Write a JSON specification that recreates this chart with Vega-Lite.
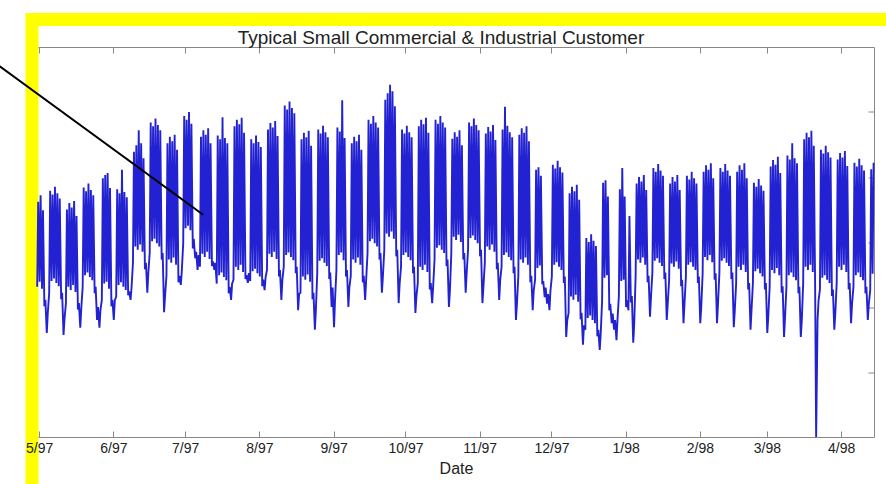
{
"$schema": "https://vega.github.io/schema/vega-lite/v6.json",
"width": 854,
"height": 464.5,
"autosize": {"type": "none"},
"padding": {"left": 32, "top": 19.5, "right": 0, "bottom": 0},
"background": "#ffffff",
"config": {
  "font": "Liberation Sans",
  "view": {"stroke": "#ffff00", "strokeWidth": 13, "strokeDash": [854, 1318.5, 464.5, 10]}
},
"title": {"text": "Typical Small Commercial & Industrial Customer", "fontSize": 19, "fontWeight": "normal", "color": "#222222", "offset": -28, "dx": -18},
"resolve": {"axis": {"x": "independent", "y": "independent"}},
"layer": [
{
"data": {"format": {"parse": {"t": "date:'%Y-%m-%dT%H'"}}, "values": [
{"t":"1997-04-30T04","v":23.1},{"t":"1997-04-30T14","v":36.2},
{"t":"1997-05-01T04","v":23.9},{"t":"1997-05-01T14","v":37.2},
{"t":"1997-05-02T04","v":22.8},{"t":"1997-05-02T14","v":34.9},
{"t":"1997-05-03T04","v":20.1},{"t":"1997-05-03T14","v":21.1},
{"t":"1997-05-04T04","v":16.0},{"t":"1997-05-04T14","v":19.0},
{"t":"1997-05-05T04","v":22.2},{"t":"1997-05-05T14","v":37.9},
{"t":"1997-05-06T04","v":24.0},{"t":"1997-05-06T14","v":37.3},
{"t":"1997-05-07T04","v":24.4},{"t":"1997-05-07T14","v":38.5},
{"t":"1997-05-08T04","v":23.7},{"t":"1997-05-08T14","v":37.5},
{"t":"1997-05-09T04","v":23.2},{"t":"1997-05-09T14","v":36.7},
{"t":"1997-05-10T04","v":21.2},{"t":"1997-05-10T14","v":22.2},
{"t":"1997-05-11T04","v":15.7},{"t":"1997-05-11T14","v":18.2},
{"t":"1997-05-12T04","v":20.6},{"t":"1997-05-12T14","v":35.0},
{"t":"1997-05-13T04","v":23.1},{"t":"1997-05-13T14","v":36.0},
{"t":"1997-05-14T04","v":22.6},{"t":"1997-05-14T14","v":35.3},
{"t":"1997-05-15T04","v":23.4},{"t":"1997-05-15T14","v":36.3},
{"t":"1997-05-16T04","v":22.3},{"t":"1997-05-16T14","v":34.0},
{"t":"1997-05-17T04","v":19.6},{"t":"1997-05-17T14","v":20.6},
{"t":"1997-05-18T04","v":16.8},{"t":"1997-05-18T14","v":19.8},
{"t":"1997-05-19T04","v":23.1},{"t":"1997-05-19T14","v":38.4},
{"t":"1997-05-20T04","v":24.9},{"t":"1997-05-20T14","v":37.8},
{"t":"1997-05-21T04","v":25.3},{"t":"1997-05-21T14","v":39.0},
{"t":"1997-05-22T04","v":24.6},{"t":"1997-05-22T14","v":38.0},
{"t":"1997-05-23T04","v":24.1},{"t":"1997-05-23T14","v":37.2},
{"t":"1997-05-24T04","v":22.1},{"t":"1997-05-24T14","v":23.1},
{"t":"1997-05-25T04","v":18.0},{"t":"1997-05-25T14","v":20.0},
{"t":"1997-05-26T04","v":16.8},{"t":"1997-05-26T14","v":19.5},
{"t":"1997-05-27T04","v":21.1},{"t":"1997-05-27T14","v":39.8},
{"t":"1997-05-28T04","v":23.6},{"t":"1997-05-28T14","v":40.3},
{"t":"1997-05-29T04","v":23.9},{"t":"1997-05-29T14","v":40.6},
{"t":"1997-05-30T04","v":22.8},{"t":"1997-05-30T14","v":38.3},
{"t":"1997-05-31T04","v":20.1},{"t":"1997-05-31T14","v":21.1},
{"t":"1997-06-01T04","v":18.0},{"t":"1997-06-01T14","v":21.0},
{"t":"1997-06-02T04","v":21.6},{"t":"1997-06-02T14","v":38.1},
{"t":"1997-06-03T04","v":23.4},{"t":"1997-06-03T14","v":37.5},
{"t":"1997-06-04T04","v":23.8},{"t":"1997-06-04T14","v":41.1},
{"t":"1997-06-05T04","v":23.1},{"t":"1997-06-05T14","v":37.7},
{"t":"1997-06-06T04","v":22.6},{"t":"1997-06-06T14","v":36.9},
{"t":"1997-06-07T04","v":21.8},{"t":"1997-06-07T14","v":22.4},
{"t":"1997-06-08T04","v":21.1},{"t":"1997-06-08T14","v":23.0},
{"t":"1997-06-09T04","v":26.8},{"t":"1997-06-09T14","v":43.9},
{"t":"1997-06-10T04","v":29.3},{"t":"1997-06-10T14","v":44.9},
{"t":"1997-06-11T04","v":28.8},{"t":"1997-06-11T14","v":47.2},
{"t":"1997-06-12T04","v":29.6},{"t":"1997-06-12T14","v":45.2},
{"t":"1997-06-13T04","v":28.5},{"t":"1997-06-13T14","v":42.9},
{"t":"1997-06-14T04","v":25.8},{"t":"1997-06-14T14","v":26.8},
{"t":"1997-06-15T04","v":22.2},{"t":"1997-06-15T14","v":25.2},
{"t":"1997-06-16T04","v":28.3},{"t":"1997-06-16T14","v":48.4},
{"t":"1997-06-17T04","v":30.1},{"t":"1997-06-17T14","v":47.8},
{"t":"1997-06-18T04","v":30.5},{"t":"1997-06-18T14","v":49.0},
{"t":"1997-06-19T04","v":29.8},{"t":"1997-06-19T14","v":48.0},
{"t":"1997-06-20T04","v":29.3},{"t":"1997-06-20T14","v":47.2},
{"t":"1997-06-21T04","v":27.3},{"t":"1997-06-21T14","v":28.3},
{"t":"1997-06-22T04","v":19.2},{"t":"1997-06-22T14","v":21.7},
{"t":"1997-06-23T04","v":24.8},{"t":"1997-06-23T14","v":45.2},
{"t":"1997-06-24T04","v":27.3},{"t":"1997-06-24T14","v":46.2},
{"t":"1997-06-25T04","v":26.8},{"t":"1997-06-25T14","v":45.5},
{"t":"1997-06-26T04","v":27.6},{"t":"1997-06-26T14","v":46.5},
{"t":"1997-06-27T04","v":26.5},{"t":"1997-06-27T14","v":44.2},
{"t":"1997-06-28T04","v":23.8},{"t":"1997-06-28T14","v":24.8},
{"t":"1997-06-29T04","v":23.4},{"t":"1997-06-29T14","v":25.6},
{"t":"1997-06-30T04","v":29.8},{"t":"1997-06-30T14","v":49.4},
{"t":"1997-07-01T04","v":32.1},{"t":"1997-07-01T14","v":48.8},
{"t":"1997-07-02T04","v":32.5},{"t":"1997-07-02T14","v":50.0},
{"t":"1997-07-03T04","v":31.8},{"t":"1997-07-03T14","v":48.2},
{"t":"1997-07-04T04","v":29.0},{"t":"1997-07-04T14","v":30.5},
{"t":"1997-07-05T04","v":27.5},{"t":"1997-07-05T14","v":28.5},
{"t":"1997-07-06T04","v":25.7},{"t":"1997-07-06T14","v":28.0},
{"t":"1997-07-07T04","v":26.2},{"t":"1997-07-07T14","v":46.2},
{"t":"1997-07-08T04","v":28.2},{"t":"1997-07-08T14","v":47.2},
{"t":"1997-07-09T04","v":27.7},{"t":"1997-07-09T14","v":46.5},
{"t":"1997-07-10T04","v":28.5},{"t":"1997-07-10T14","v":47.5},
{"t":"1997-07-11T04","v":27.4},{"t":"1997-07-11T14","v":45.2},
{"t":"1997-07-12T04","v":26.3},{"t":"1997-07-12T14","v":27.0},
{"t":"1997-07-13T04","v":25.7},{"t":"1997-07-13T14","v":26.8},
{"t":"1997-07-14T04","v":23.6},{"t":"1997-07-14T14","v":46.4},
{"t":"1997-07-15T04","v":24.9},{"t":"1997-07-15T14","v":45.8},
{"t":"1997-07-16T04","v":25.3},{"t":"1997-07-16T14","v":49.2},
{"t":"1997-07-17T04","v":24.6},{"t":"1997-07-17T14","v":46.0},
{"t":"1997-07-18T04","v":24.1},{"t":"1997-07-18T14","v":45.2},
{"t":"1997-07-19T04","v":22.1},{"t":"1997-07-19T14","v":23.1},
{"t":"1997-07-20T04","v":21.1},{"t":"1997-07-20T14","v":23.6},
{"t":"1997-07-21T04","v":24.2},{"t":"1997-07-21T14","v":47.8},
{"t":"1997-07-22T04","v":26.2},{"t":"1997-07-22T14","v":48.8},
{"t":"1997-07-23T04","v":25.7},{"t":"1997-07-23T14","v":48.1},
{"t":"1997-07-24T04","v":26.5},{"t":"1997-07-24T14","v":49.1},
{"t":"1997-07-25T04","v":25.4},{"t":"1997-07-25T14","v":46.8},
{"t":"1997-07-26T04","v":24.3},{"t":"1997-07-26T14","v":24.9},
{"t":"1997-07-27T04","v":23.7},{"t":"1997-07-27T14","v":25.2},
{"t":"1997-07-28T04","v":24.0},{"t":"1997-07-28T14","v":45.8},
{"t":"1997-07-29T04","v":25.5},{"t":"1997-07-29T14","v":45.2},
{"t":"1997-07-30T04","v":25.9},{"t":"1997-07-30T14","v":46.4},
{"t":"1997-07-31T04","v":25.2},{"t":"1997-07-31T14","v":45.4},
{"t":"1997-08-01T04","v":24.7},{"t":"1997-08-01T14","v":44.6},
{"t":"1997-08-02T04","v":23.2},{"t":"1997-08-02T14","v":24.2},
{"t":"1997-08-03T04","v":22.6},{"t":"1997-08-03T14","v":24.6},
{"t":"1997-08-04T04","v":25.7},{"t":"1997-08-04T14","v":47.3},
{"t":"1997-08-05T04","v":28.2},{"t":"1997-08-05T14","v":48.3},
{"t":"1997-08-06T04","v":27.7},{"t":"1997-08-06T14","v":47.6},
{"t":"1997-08-07T04","v":28.5},{"t":"1997-08-07T14","v":48.6},
{"t":"1997-08-08T04","v":27.4},{"t":"1997-08-08T14","v":46.3},
{"t":"1997-08-09T04","v":24.7},{"t":"1997-08-09T14","v":25.7},
{"t":"1997-08-10T04","v":21.1},{"t":"1997-08-10T14","v":24.1},
{"t":"1997-08-11T04","v":26.2},{"t":"1997-08-11T14","v":51.0},
{"t":"1997-08-12T04","v":28.0},{"t":"1997-08-12T14","v":50.4},
{"t":"1997-08-13T04","v":28.4},{"t":"1997-08-13T14","v":51.6},
{"t":"1997-08-14T04","v":27.7},{"t":"1997-08-14T14","v":50.6},
{"t":"1997-08-15T04","v":27.2},{"t":"1997-08-15T14","v":49.8},
{"t":"1997-08-16T04","v":25.2},{"t":"1997-08-16T14","v":26.2},
{"t":"1997-08-17T04","v":19.5},{"t":"1997-08-17T14","v":22.0},
{"t":"1997-08-18T04","v":22.2},{"t":"1997-08-18T14","v":45.8},
{"t":"1997-08-19T04","v":24.7},{"t":"1997-08-19T14","v":46.8},
{"t":"1997-08-20T04","v":24.2},{"t":"1997-08-20T14","v":46.1},
{"t":"1997-08-21T04","v":25.0},{"t":"1997-08-21T14","v":47.1},
{"t":"1997-08-22T04","v":23.9},{"t":"1997-08-22T14","v":44.8},
{"t":"1997-08-23T04","v":21.2},{"t":"1997-08-23T14","v":22.2},
{"t":"1997-08-24T04","v":16.5},{"t":"1997-08-24T14","v":19.5},
{"t":"1997-08-25T04","v":25.3},{"t":"1997-08-25T14","v":47.3},
{"t":"1997-08-26T04","v":27.1},{"t":"1997-08-26T14","v":46.7},
{"t":"1997-08-27T04","v":27.5},{"t":"1997-08-27T14","v":47.9},
{"t":"1997-08-28T04","v":26.8},{"t":"1997-08-28T14","v":46.9},
{"t":"1997-08-29T04","v":26.3},{"t":"1997-08-29T14","v":46.1},
{"t":"1997-08-30T04","v":24.3},{"t":"1997-08-30T14","v":25.3},
{"t":"1997-08-31T04","v":20.0},{"t":"1997-08-31T14","v":23.0},
{"t":"1997-09-01T04","v":16.9},{"t":"1997-09-01T14","v":21.0},
{"t":"1997-09-02T04","v":25.7},{"t":"1997-09-02T14","v":47.6},
{"t":"1997-09-03T04","v":28.0},{"t":"1997-09-03T14","v":47.0},
{"t":"1997-09-04T04","v":28.4},{"t":"1997-09-04T14","v":51.8},
{"t":"1997-09-05T04","v":27.2},{"t":"1997-09-05T14","v":46.0},
{"t":"1997-09-06T04","v":24.7},{"t":"1997-09-06T14","v":25.7},
{"t":"1997-09-07T04","v":20.0},{"t":"1997-09-07T14","v":23.0},
{"t":"1997-09-08T04","v":24.8},{"t":"1997-09-08T14","v":45.2},
{"t":"1997-09-09T04","v":27.3},{"t":"1997-09-09T14","v":46.2},
{"t":"1997-09-10T04","v":26.8},{"t":"1997-09-10T14","v":45.5},
{"t":"1997-09-11T04","v":27.6},{"t":"1997-09-11T14","v":46.5},
{"t":"1997-09-12T04","v":26.5},{"t":"1997-09-12T14","v":44.2},
{"t":"1997-09-13T04","v":23.8},{"t":"1997-09-13T14","v":24.8},
{"t":"1997-09-14T04","v":21.1},{"t":"1997-09-14T14","v":24.1},
{"t":"1997-09-15T04","v":28.3},{"t":"1997-09-15T14","v":48.8},
{"t":"1997-09-16T04","v":30.1},{"t":"1997-09-16T14","v":48.2},
{"t":"1997-09-17T04","v":30.5},{"t":"1997-09-17T14","v":49.4},
{"t":"1997-09-18T04","v":29.8},{"t":"1997-09-18T14","v":48.4},
{"t":"1997-09-19T04","v":29.3},{"t":"1997-09-19T14","v":47.6},
{"t":"1997-09-20T04","v":27.3},{"t":"1997-09-20T14","v":28.3},
{"t":"1997-09-21T04","v":22.2},{"t":"1997-09-21T14","v":24.7},
{"t":"1997-09-22T04","v":28.8},{"t":"1997-09-22T14","v":51.9},
{"t":"1997-09-23T04","v":31.3},{"t":"1997-09-23T14","v":52.9},
{"t":"1997-09-24T04","v":30.8},{"t":"1997-09-24T14","v":54.2},
{"t":"1997-09-25T04","v":31.6},{"t":"1997-09-25T14","v":53.2},
{"t":"1997-09-26T04","v":30.5},{"t":"1997-09-26T14","v":50.9},
{"t":"1997-09-27T04","v":27.8},{"t":"1997-09-27T14","v":28.8},
{"t":"1997-09-28T04","v":20.6},{"t":"1997-09-28T14","v":23.6},
{"t":"1997-09-29T04","v":26.2},{"t":"1997-09-29T14","v":47.3},
{"t":"1997-09-30T04","v":28.0},{"t":"1997-09-30T14","v":46.7},
{"t":"1997-10-01T04","v":28.4},{"t":"1997-10-01T14","v":47.9},
{"t":"1997-10-02T04","v":27.7},{"t":"1997-10-02T14","v":46.9},
{"t":"1997-10-03T04","v":27.2},{"t":"1997-10-03T14","v":46.1},
{"t":"1997-10-04T04","v":25.2},{"t":"1997-10-04T14","v":26.2},
{"t":"1997-10-05T04","v":19.1},{"t":"1997-10-05T14","v":21.6},
{"t":"1997-10-06T04","v":23.7},{"t":"1997-10-06T14","v":47.8},
{"t":"1997-10-07T04","v":26.2},{"t":"1997-10-07T14","v":48.8},
{"t":"1997-10-08T04","v":25.7},{"t":"1997-10-08T14","v":48.1},
{"t":"1997-10-09T04","v":26.5},{"t":"1997-10-09T14","v":49.1},
{"t":"1997-10-10T04","v":25.4},{"t":"1997-10-10T14","v":46.8},
{"t":"1997-10-11T04","v":22.7},{"t":"1997-10-11T14","v":23.7},
{"t":"1997-10-12T04","v":20.6},{"t":"1997-10-12T14","v":23.2},
{"t":"1997-10-13T04","v":27.3},{"t":"1997-10-13T14","v":48.8},
{"t":"1997-10-14T04","v":29.1},{"t":"1997-10-14T14","v":48.2},
{"t":"1997-10-15T04","v":29.5},{"t":"1997-10-15T14","v":49.4},
{"t":"1997-10-16T04","v":28.8},{"t":"1997-10-16T14","v":48.4},
{"t":"1997-10-17T04","v":28.3},{"t":"1997-10-17T14","v":47.6},
{"t":"1997-10-18T04","v":26.3},{"t":"1997-10-18T14","v":27.3},
{"t":"1997-10-19T04","v":20.0},{"t":"1997-10-19T14","v":22.5},
{"t":"1997-10-20T04","v":28.3},{"t":"1997-10-20T14","v":45.9},
{"t":"1997-10-21T04","v":30.8},{"t":"1997-10-21T14","v":46.9},
{"t":"1997-10-22T04","v":30.3},{"t":"1997-10-22T14","v":46.2},
{"t":"1997-10-23T04","v":31.1},{"t":"1997-10-23T14","v":47.2},
{"t":"1997-10-24T04","v":30.0},{"t":"1997-10-24T14","v":44.9},
{"t":"1997-10-25T04","v":27.3},{"t":"1997-10-25T14","v":28.3},
{"t":"1997-10-26T04","v":22.2},{"t":"1997-10-26T14","v":25.2},
{"t":"1997-10-27T04","v":28.8},{"t":"1997-10-27T14","v":48.4},
{"t":"1997-10-28T04","v":30.6},{"t":"1997-10-28T14","v":47.8},
{"t":"1997-10-29T04","v":31.0},{"t":"1997-10-29T14","v":49.0},
{"t":"1997-10-30T04","v":30.3},{"t":"1997-10-30T14","v":48.0},
{"t":"1997-10-31T04","v":29.8},{"t":"1997-10-31T14","v":47.2},
{"t":"1997-11-01T04","v":27.8},{"t":"1997-11-01T14","v":28.8},
{"t":"1997-11-02T04","v":20.6},{"t":"1997-11-02T14","v":23.1},
{"t":"1997-11-03T04","v":26.8},{"t":"1997-11-03T14","v":46.7},
{"t":"1997-11-04T04","v":29.3},{"t":"1997-11-04T14","v":47.7},
{"t":"1997-11-05T04","v":28.8},{"t":"1997-11-05T14","v":47.0},
{"t":"1997-11-06T04","v":29.6},{"t":"1997-11-06T14","v":48.0},
{"t":"1997-11-07T04","v":28.5},{"t":"1997-11-07T14","v":45.7},
{"t":"1997-11-08T04","v":25.8},{"t":"1997-11-08T14","v":26.8},
{"t":"1997-11-09T04","v":21.1},{"t":"1997-11-09T14","v":24.1},
{"t":"1997-11-10T04","v":26.2},{"t":"1997-11-10T14","v":47.3},
{"t":"1997-11-11T04","v":28.0},{"t":"1997-11-11T14","v":50.8},
{"t":"1997-11-12T04","v":28.4},{"t":"1997-11-12T14","v":47.9},
{"t":"1997-11-13T04","v":27.7},{"t":"1997-11-13T14","v":46.9},
{"t":"1997-11-14T04","v":27.2},{"t":"1997-11-14T14","v":46.1},
{"t":"1997-11-15T04","v":25.2},{"t":"1997-11-15T14","v":26.2},
{"t":"1997-11-16T04","v":18.0},{"t":"1997-11-16T14","v":20.5},
{"t":"1997-11-17T04","v":24.8},{"t":"1997-11-17T14","v":46.5},
{"t":"1997-11-18T04","v":27.3},{"t":"1997-11-18T14","v":47.5},
{"t":"1997-11-19T04","v":26.8},{"t":"1997-11-19T14","v":46.8},
{"t":"1997-11-20T04","v":27.6},{"t":"1997-11-20T14","v":47.8},
{"t":"1997-11-21T04","v":26.5},{"t":"1997-11-21T14","v":45.5},
{"t":"1997-11-22T04","v":23.8},{"t":"1997-11-22T14","v":24.8},
{"t":"1997-11-23T04","v":19.5},{"t":"1997-11-23T14","v":22.5},
{"t":"1997-11-24T04","v":24.2},{"t":"1997-11-24T14","v":41.1},
{"t":"1997-11-25T04","v":26.0},{"t":"1997-11-25T14","v":41.5},
{"t":"1997-11-26T04","v":26.4},{"t":"1997-11-26T14","v":40.2},
{"t":"1997-11-27T04","v":23.5},{"t":"1997-11-27T14","v":24.0},
{"t":"1997-11-28T04","v":21.5},{"t":"1997-11-28T14","v":23.0},
{"t":"1997-11-29T04","v":20.5},{"t":"1997-11-29T14","v":22.0},
{"t":"1997-11-30T04","v":19.5},{"t":"1997-11-30T14","v":22.5},
{"t":"1997-12-01T04","v":24.7},{"t":"1997-12-01T14","v":41.9},
{"t":"1997-12-02T04","v":26.5},{"t":"1997-12-02T14","v":41.3},
{"t":"1997-12-03T04","v":26.9},{"t":"1997-12-03T14","v":42.5},
{"t":"1997-12-04T04","v":26.2},{"t":"1997-12-04T14","v":41.5},
{"t":"1997-12-05T04","v":25.7},{"t":"1997-12-05T14","v":40.7},
{"t":"1997-12-06T04","v":23.7},{"t":"1997-12-06T14","v":24.7},
{"t":"1997-12-07T04","v":15.4},{"t":"1997-12-07T14","v":17.9},
{"t":"1997-12-08T04","v":19.1},{"t":"1997-12-08T14","v":37.5},
{"t":"1997-12-09T04","v":21.6},{"t":"1997-12-09T14","v":38.5},
{"t":"1997-12-10T04","v":21.1},{"t":"1997-12-10T14","v":37.8},
{"t":"1997-12-11T04","v":21.9},{"t":"1997-12-11T14","v":38.8},
{"t":"1997-12-12T04","v":20.8},{"t":"1997-12-12T14","v":36.5},
{"t":"1997-12-13T04","v":18.1},{"t":"1997-12-13T14","v":19.1},
{"t":"1997-12-14T04","v":14.2},{"t":"1997-12-14T14","v":17.2},
{"t":"1997-12-15T04","v":16.5},{"t":"1997-12-15T14","v":30.6},
{"t":"1997-12-16T04","v":18.3},{"t":"1997-12-16T14","v":30.0},
{"t":"1997-12-17T04","v":18.7},{"t":"1997-12-17T14","v":31.2},
{"t":"1997-12-18T04","v":18.0},{"t":"1997-12-18T14","v":30.2},
{"t":"1997-12-19T04","v":17.5},{"t":"1997-12-19T14","v":29.4},
{"t":"1997-12-20T04","v":15.5},{"t":"1997-12-20T14","v":16.5},
{"t":"1997-12-21T04","v":13.4},{"t":"1997-12-21T14","v":15.9},
{"t":"1997-12-22T04","v":21.0},{"t":"1997-12-22T14","v":39.1},
{"t":"1997-12-23T04","v":24.5},{"t":"1997-12-23T14","v":39.5},
{"t":"1997-12-24T04","v":24.9},{"t":"1997-12-24T14","v":37.0},
{"t":"1997-12-25T04","v":19.5},{"t":"1997-12-25T14","v":20.5},
{"t":"1997-12-26T04","v":17.5},{"t":"1997-12-26T14","v":19.0},
{"t":"1997-12-27T04","v":16.5},{"t":"1997-12-27T14","v":18.0},
{"t":"1997-12-28T04","v":14.9},{"t":"1997-12-28T14","v":18.0},
{"t":"1997-12-29T04","v":21.7},{"t":"1997-12-29T14","v":38.1},
{"t":"1997-12-30T04","v":24.0},{"t":"1997-12-30T14","v":41.4},
{"t":"1997-12-31T04","v":24.2},{"t":"1997-12-31T14","v":37.0},
{"t":"1998-01-01T04","v":20.0},{"t":"1998-01-01T14","v":21.0},
{"t":"1998-01-02T04","v":19.5},{"t":"1998-01-02T14","v":34.0},
{"t":"1998-01-03T04","v":20.7},{"t":"1998-01-03T14","v":21.7},
{"t":"1998-01-04T04","v":14.5},{"t":"1998-01-04T14","v":17.5},
{"t":"1998-01-05T04","v":24.8},{"t":"1998-01-05T14","v":39.0},
{"t":"1998-01-06T04","v":27.3},{"t":"1998-01-06T14","v":40.0},
{"t":"1998-01-07T04","v":26.8},{"t":"1998-01-07T14","v":39.3},
{"t":"1998-01-08T04","v":27.6},{"t":"1998-01-08T14","v":40.3},
{"t":"1998-01-09T04","v":26.5},{"t":"1998-01-09T14","v":38.0},
{"t":"1998-01-10T04","v":23.8},{"t":"1998-01-10T14","v":24.8},
{"t":"1998-01-11T04","v":18.5},{"t":"1998-01-11T14","v":21.5},
{"t":"1998-01-12T04","v":25.3},{"t":"1998-01-12T14","v":41.4},
{"t":"1998-01-13T04","v":27.1},{"t":"1998-01-13T14","v":40.8},
{"t":"1998-01-14T04","v":27.5},{"t":"1998-01-14T14","v":42.0},
{"t":"1998-01-15T04","v":26.8},{"t":"1998-01-15T14","v":41.0},
{"t":"1998-01-16T04","v":26.3},{"t":"1998-01-16T14","v":40.2},
{"t":"1998-01-17T04","v":24.3},{"t":"1998-01-17T14","v":25.3},
{"t":"1998-01-18T04","v":18.0},{"t":"1998-01-18T14","v":20.5},
{"t":"1998-01-19T04","v":24.2},{"t":"1998-01-19T14","v":39.0},
{"t":"1998-01-20T04","v":26.7},{"t":"1998-01-20T14","v":40.0},
{"t":"1998-01-21T04","v":26.2},{"t":"1998-01-21T14","v":39.3},
{"t":"1998-01-22T04","v":27.0},{"t":"1998-01-22T14","v":40.3},
{"t":"1998-01-23T04","v":25.9},{"t":"1998-01-23T14","v":38.0},
{"t":"1998-01-24T04","v":23.2},{"t":"1998-01-24T14","v":24.2},
{"t":"1998-01-25T04","v":17.5},{"t":"1998-01-25T14","v":20.5},
{"t":"1998-01-26T04","v":24.7},{"t":"1998-01-26T14","v":40.2},
{"t":"1998-01-27T04","v":26.5},{"t":"1998-01-27T14","v":39.6},
{"t":"1998-01-28T04","v":26.9},{"t":"1998-01-28T14","v":40.8},
{"t":"1998-01-29T04","v":26.2},{"t":"1998-01-29T14","v":39.8},
{"t":"1998-01-30T04","v":25.7},{"t":"1998-01-30T14","v":39.0},
{"t":"1998-01-31T04","v":23.7},{"t":"1998-01-31T14","v":24.7},
{"t":"1998-02-01T04","v":17.5},{"t":"1998-02-01T14","v":20.0},
{"t":"1998-02-02T04","v":25.2},{"t":"1998-02-02T14","v":40.8},
{"t":"1998-02-03T04","v":27.7},{"t":"1998-02-03T14","v":41.8},
{"t":"1998-02-04T04","v":27.2},{"t":"1998-02-04T14","v":41.1},
{"t":"1998-02-05T04","v":28.0},{"t":"1998-02-05T14","v":42.1},
{"t":"1998-02-06T04","v":26.9},{"t":"1998-02-06T14","v":39.8},
{"t":"1998-02-07T04","v":24.2},{"t":"1998-02-07T14","v":25.2},
{"t":"1998-02-08T04","v":17.5},{"t":"1998-02-08T14","v":20.5},
{"t":"1998-02-09T04","v":25.3},{"t":"1998-02-09T14","v":41.4},
{"t":"1998-02-10T04","v":27.1},{"t":"1998-02-10T14","v":40.8},
{"t":"1998-02-11T04","v":27.5},{"t":"1998-02-11T14","v":42.0},
{"t":"1998-02-12T04","v":26.8},{"t":"1998-02-12T14","v":41.0},
{"t":"1998-02-13T04","v":26.3},{"t":"1998-02-13T14","v":40.2},
{"t":"1998-02-14T04","v":24.3},{"t":"1998-02-14T14","v":25.3},
{"t":"1998-02-15T04","v":16.9},{"t":"1998-02-15T14","v":19.4},
{"t":"1998-02-16T04","v":23.7},{"t":"1998-02-16T14","v":40.8},
{"t":"1998-02-17T04","v":26.2},{"t":"1998-02-17T14","v":41.8},
{"t":"1998-02-18T04","v":25.7},{"t":"1998-02-18T14","v":41.1},
{"t":"1998-02-19T04","v":26.5},{"t":"1998-02-19T14","v":42.1},
{"t":"1998-02-20T04","v":25.4},{"t":"1998-02-20T14","v":39.8},
{"t":"1998-02-21T04","v":22.7},{"t":"1998-02-21T14","v":23.7},
{"t":"1998-02-22T04","v":16.5},{"t":"1998-02-22T14","v":19.5},
{"t":"1998-02-23T04","v":23.7},{"t":"1998-02-23T14","v":39.1},
{"t":"1998-02-24T04","v":25.5},{"t":"1998-02-24T14","v":38.5},
{"t":"1998-02-25T04","v":25.9},{"t":"1998-02-25T14","v":39.7},
{"t":"1998-02-26T04","v":25.2},{"t":"1998-02-26T14","v":38.7},
{"t":"1998-02-27T04","v":24.7},{"t":"1998-02-27T14","v":37.9},
{"t":"1998-02-28T04","v":22.7},{"t":"1998-02-28T14","v":23.7},
{"t":"1998-03-01T04","v":16.0},{"t":"1998-03-01T14","v":18.5},
{"t":"1998-03-02T04","v":23.2},{"t":"1998-03-02T14","v":41.6},
{"t":"1998-03-03T04","v":25.7},{"t":"1998-03-03T14","v":42.6},
{"t":"1998-03-04T04","v":25.2},{"t":"1998-03-04T14","v":41.9},
{"t":"1998-03-05T04","v":26.0},{"t":"1998-03-05T14","v":43.1},
{"t":"1998-03-06T04","v":24.9},{"t":"1998-03-06T14","v":40.6},
{"t":"1998-03-07T04","v":22.2},{"t":"1998-03-07T14","v":23.2},
{"t":"1998-03-08T04","v":15.4},{"t":"1998-03-08T14","v":18.4},
{"t":"1998-03-09T04","v":23.1},{"t":"1998-03-09T14","v":43.3},
{"t":"1998-03-10T04","v":24.9},{"t":"1998-03-10T14","v":42.7},
{"t":"1998-03-11T04","v":25.3},{"t":"1998-03-11T14","v":45.2},
{"t":"1998-03-12T04","v":24.6},{"t":"1998-03-12T14","v":42.9},
{"t":"1998-03-13T04","v":24.1},{"t":"1998-03-13T14","v":42.1},
{"t":"1998-03-14T04","v":22.1},{"t":"1998-03-14T14","v":23.1},
{"t":"1998-03-15T04","v":15.4},{"t":"1998-03-15T14","v":17.9},
{"t":"1998-03-16T04","v":23.7},{"t":"1998-03-16T14","v":45.8},
{"t":"1998-03-17T04","v":26.2},{"t":"1998-03-17T14","v":46.8},
{"t":"1998-03-18T04","v":25.7},{"t":"1998-03-18T14","v":46.1},
{"t":"1998-03-19T04","v":26.5},{"t":"1998-03-19T14","v":47.1},
{"t":"1998-03-20T04","v":25.4},{"t":"1998-03-20T14","v":44.8},
{"t":"1998-03-21T04","v":22.7},{"t":"1998-03-21T14","v":0},
{"t":"1998-03-22T04","v":18.0},{"t":"1998-03-22T14","v":21.0},
{"t":"1998-03-23T04","v":22.7},{"t":"1998-03-23T14","v":44.2},
{"t":"1998-03-24T04","v":24.5},{"t":"1998-03-24T14","v":43.6},
{"t":"1998-03-25T04","v":24.9},{"t":"1998-03-25T14","v":44.8},
{"t":"1998-03-26T04","v":24.2},{"t":"1998-03-26T14","v":43.8},
{"t":"1998-03-27T04","v":23.7},{"t":"1998-03-27T14","v":43.0},
{"t":"1998-03-28T04","v":21.7},{"t":"1998-03-28T14","v":22.7},
{"t":"1998-03-29T04","v":16.5},{"t":"1998-03-29T14","v":19.0},
{"t":"1998-03-30T04","v":23.7},{"t":"1998-03-30T14","v":42.7},
{"t":"1998-03-31T04","v":26.2},{"t":"1998-03-31T14","v":43.7},
{"t":"1998-04-01T04","v":25.7},{"t":"1998-04-01T14","v":43.0},
{"t":"1998-04-02T04","v":26.5},{"t":"1998-04-02T14","v":44.0},
{"t":"1998-04-03T04","v":25.4},{"t":"1998-04-03T14","v":41.7},
{"t":"1998-04-04T04","v":22.7},{"t":"1998-04-04T14","v":23.7},
{"t":"1998-04-05T04","v":17.5},{"t":"1998-04-05T14","v":20.5},
{"t":"1998-04-06T04","v":23.1},{"t":"1998-04-06T14","v":42.2},
{"t":"1998-04-07T04","v":24.9},{"t":"1998-04-07T14","v":41.6},
{"t":"1998-04-08T04","v":25.3},{"t":"1998-04-08T14","v":42.8},
{"t":"1998-04-09T04","v":24.6},{"t":"1998-04-09T14","v":41.8},
{"t":"1998-04-10T04","v":24.1},{"t":"1998-04-10T14","v":41.0},
{"t":"1998-04-11T04","v":22.1},{"t":"1998-04-11T14","v":23.1},
{"t":"1998-04-12T04","v":18.0},{"t":"1998-04-12T14","v":20.5},
{"t":"1998-04-13T04","v":22.6},{"t":"1998-04-13T14","v":41.2},
{"t":"1998-04-14T04","v":25.1},{"t":"1998-04-14T14","v":42.2}
]},
"mark": {"type": "line", "color": "#2222d2", "strokeWidth": 1.9, "clip": true},
"encoding": {
  "x": {"field": "t", "type": "temporal",
    "scale": {"domain": [{"year": 1997, "month": 4, "date": 30, "hours": 12}, {"year": 1998, "month": 4, "date": 14, "hours": 18}], "range": [6, 842], "nice": false},
    "axis": {"orient": "bottom", "offset": -47, "format": "%-m/%y", "tickCount": {"interval": "month", "step": 1}, "tickSize": -6, "labelPadding": 10, "labelFontSize": 14, "labelColor": "#222222", "labelFlush": false, "labelOverlap": false, "domainColor": "#888888", "tickColor": "#888888", "grid": false, "title": "Date", "titleFontSize": 16, "titleFontWeight": "normal", "titleColor": "#222222", "titlePadding": 5}},
  "y": {"field": "v", "type": "quantitative",
    "scale": {"domain": [0, 60], "range": [417.5, 27.5], "nice": false, "zero": false},
    "axis": {"orient": "right", "offset": -12, "values": [10, 20, 30, 40, 50], "tickSize": -6, "labels": false, "domainColor": "#888888", "tickColor": "#888888", "grid": false, "title": null}}
}
},
{
"data": {"format": {"parse": {"t": "date:'%Y-%m-%dT%H'", "t2": "date:'%Y-%m-%dT%H'"}}, "values": [
{"t": "1997-04-13T12", "v": 57.3, "t2": "1997-07-08T12", "v2": 34.2}
]},
"mark": {"type": "rule", "color": "#000000", "strokeWidth": 2},
"encoding": {
  "x": {"field": "t", "type": "temporal",
    "scale": {"domain": [{"year": 1997, "month": 4, "date": 30, "hours": 12}, {"year": 1998, "month": 4, "date": 14, "hours": 18}], "range": [6, 842], "nice": false},
    "axis": {"orient": "top", "offset": -27.5, "tickCount": {"interval": "month", "step": 1}, "tickSize": -6, "labels": false, "domainColor": "#888888", "tickColor": "#888888", "grid": false, "title": null}},
  "x2": {"field": "t2"},
  "y": {"field": "v", "type": "quantitative",
    "scale": {"domain": [0, 60], "range": [417.5, 27.5], "nice": false, "zero": false},
    "axis": null},
  "y2": {"field": "v2"}
}
}
]
}
